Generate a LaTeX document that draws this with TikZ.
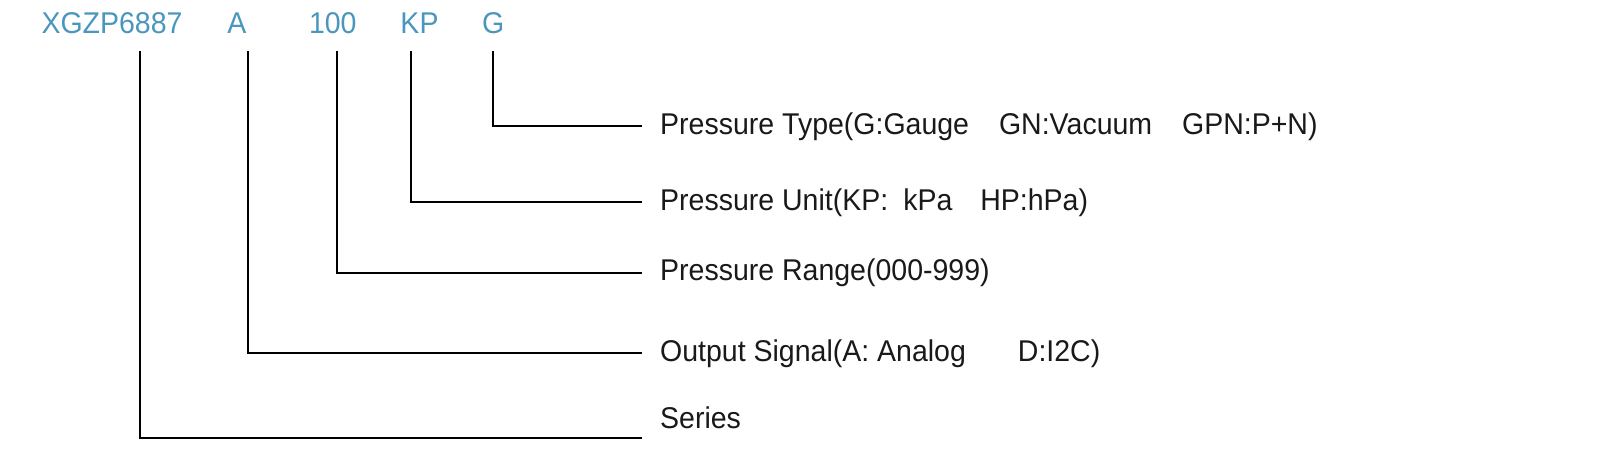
\documentclass[tikz,border=0pt]{standalone}
\usepackage{fontspec}
\setmainfont{Liberation Sans}[FakeStretch=0.95]
\definecolor{codeblue}{RGB}{74,150,188}
\definecolor{labelink}{RGB}{25,25,25}
\begin{document}
\begin{tikzpicture}[x=1pt,y=-1pt,
  code/.style={inner sep=0pt,anchor=base,text=codeblue,font=\fontsize{30pt}{36pt}\selectfont},
  desc/.style={inner sep=0pt,anchor=base west,text=labelink,font=\fontsize{30pt}{36pt}\selectfont},
  leader/.style={draw=black,line width=2.2pt}]
\useasboundingbox (0,0) rectangle (1608,456);
% code parts
\node[code] (tser) at (112,33.3) {XGZP6887};
\node[code] (tsig) at (237,33.3) {A};
\node[code] (trng) at (332.8,33.3) {100};
\node[code] (tunt) at (419.5,33.3) {KP};
\node[code] (ttyp) at (493.2,33.3) {G};
% descriptions
\node[desc] (dtyp) at (660,134.3) {Pressure Type(G:Gauge\hspace*{30pt}GN:Vacuum\hspace*{30pt}GPN:P+N)};
\node[desc] (dunt) at (660,210) {Pressure Unit(KP:\hspace*{15pt}kPa\hspace*{28pt}HP:hPa)};
\node[desc] (drng) at (660,280.7) {Pressure Range(000-999)};
\node[desc] (dsig) at (660,361.2) {Output Signal(A: Analog\hspace*{52pt}D:I2C)};
\node[desc] (dser) at (660,428.7) {Series};
% leader start and end points
\coordinate (sser) at (140,51);
\coordinate (ssig) at (247.7,51);
\coordinate (srng) at (336.8,51);
\coordinate (sunt) at (410.7,51);
\coordinate (styp) at (492.8,51);
\coordinate (etyp) at (642,126.3);
\coordinate (eunt) at (642,202);
\coordinate (erng) at (642,272.7);
\coordinate (esig) at (642,352.7);
\coordinate (eser) at (642,437.7);
\draw[leader] (styp) |- (etyp);
\draw[leader] (sunt) |- (eunt);
\draw[leader] (srng) |- (erng);
\draw[leader] (ssig) |- (esig);
\draw[leader] (sser) |- (eser);
\end{tikzpicture}
\end{document}
